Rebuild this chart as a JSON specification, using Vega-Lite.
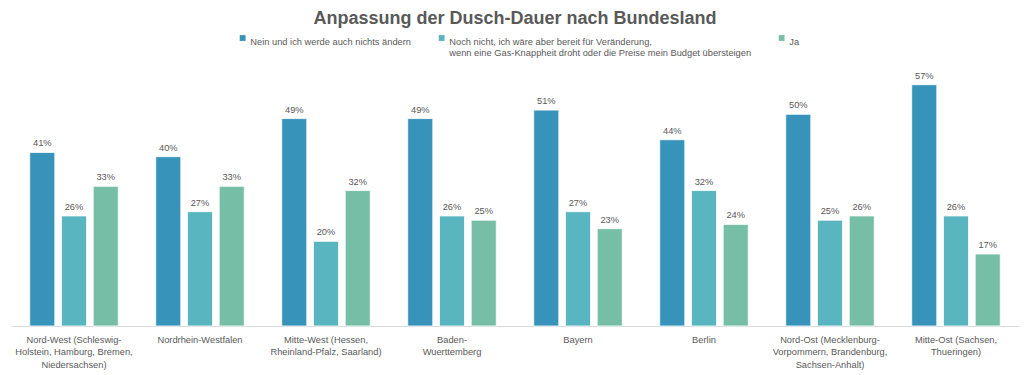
{
  "$schema": "https://vega.github.io/schema/vega-lite/v6.json",
  "width": 1008,
  "height": 254,
  "autosize": {"type": "none"},
  "padding": {"left": 11, "top": 72, "right": 11, "bottom": 49},
  "background": "white",
  "title": {
    "text": "Anpassung der Dusch-Dauer nach Bundesland",
    "anchor": "middle",
    "frame": "group",
    "fontSize": 18,
    "fontWeight": "bold",
    "font": "Liberation Sans",
    "color": "#595959",
    "offset": 5
  },
  "data": {
    "values": [
      {"region": "Nord-West", "answer": "Nein", "value": 0.41},
      {"region": "Nord-West", "answer": "Noch nicht", "value": 0.26},
      {"region": "Nord-West", "answer": "Ja", "value": 0.33},
      {"region": "Nordrhein-Westfalen", "answer": "Nein", "value": 0.40},
      {"region": "Nordrhein-Westfalen", "answer": "Noch nicht", "value": 0.27},
      {"region": "Nordrhein-Westfalen", "answer": "Ja", "value": 0.33},
      {"region": "Mitte-West", "answer": "Nein", "value": 0.49},
      {"region": "Mitte-West", "answer": "Noch nicht", "value": 0.20},
      {"region": "Mitte-West", "answer": "Ja", "value": 0.32},
      {"region": "Baden-Wuerttemberg", "answer": "Nein", "value": 0.49},
      {"region": "Baden-Wuerttemberg", "answer": "Noch nicht", "value": 0.26},
      {"region": "Baden-Wuerttemberg", "answer": "Ja", "value": 0.25},
      {"region": "Bayern", "answer": "Nein", "value": 0.51},
      {"region": "Bayern", "answer": "Noch nicht", "value": 0.27},
      {"region": "Bayern", "answer": "Ja", "value": 0.23},
      {"region": "Berlin", "answer": "Nein", "value": 0.44},
      {"region": "Berlin", "answer": "Noch nicht", "value": 0.32},
      {"region": "Berlin", "answer": "Ja", "value": 0.24},
      {"region": "Nord-Ost", "answer": "Nein", "value": 0.50},
      {"region": "Nord-Ost", "answer": "Noch nicht", "value": 0.25},
      {"region": "Nord-Ost", "answer": "Ja", "value": 0.26},
      {"region": "Mitte-Ost", "answer": "Nein", "value": 0.57},
      {"region": "Mitte-Ost", "answer": "Noch nicht", "value": 0.26},
      {"region": "Mitte-Ost", "answer": "Ja", "value": 0.17}
    ]
  },
  "encoding": {
    "x": {
      "field": "region",
      "type": "nominal",
      "sort": null,
      "scale": {"paddingInner": 0, "paddingOuter": 0},
      "axis": {
        "title": null,
        "labelAngle": 0,
        "ticks": false,
        "labelPadding": 9,
        "labelFontSize": 9.3,
        "labelFont": "Liberation Sans",
        "labelColor": "#595959",
        "labelLineHeight": 12.5,
        "labelBaseline": "top",
        "domainColor": "#d9d9d9",
        "domainWidth": 1,
        "grid": false,
        "labelExpr": "datum.label == 'Nord-West' ? ['Nord-West (Schleswig-', 'Holstein, Hamburg, Bremen,', 'Niedersachsen)'] : datum.label == 'Mitte-West' ? ['Mitte-West (Hessen,', 'Rheinland-Pfalz, Saarland)'] : datum.label == 'Baden-Wuerttemberg' ? ['Baden-', 'Wuerttemberg'] : datum.label == 'Nord-Ost' ? ['Nord-Ost (Mecklenburg-', 'Vorpommern, Brandenburg,', 'Sachsen-Anhalt)'] : datum.label == 'Mitte-Ost' ? ['Mitte-Ost (Sachsen,', 'Thueringen)'] : datum.label"
      }
    },
    "xOffset": {
      "field": "answer",
      "type": "nominal",
      "sort": ["Nein", "Noch nicht", "Ja"],
      "scale": {"paddingInner": 0.21, "paddingOuter": 0.59}
    },
    "y": {
      "field": "value",
      "type": "quantitative",
      "scale": {"domain": [0, 0.6], "nice": false},
      "axis": null
    }
  },
  "layer": [
    {
      "mark": {"type": "bar", "stroke": "white", "strokeWidth": 0.8},
      "encoding": {
        "color": {
          "field": "answer",
          "type": "nominal",
          "sort": ["Nein", "Noch nicht", "Ja"],
          "scale": {
            "domain": ["Nein", "Noch nicht", "Ja"],
            "range": ["#3893BA", "#59B5C0", "#77BEA7"]
          },
          "legend": {
            "title": null,
            "orient": "none",
            "legendX": 227,
            "legendY": -39,
            "direction": "horizontal",
            "symbolType": "square",
            "symbolSize": 34,
            "symbolStrokeWidth": 0,
            "labelFontSize": 9.3,
            "labelFont": "Liberation Sans",
            "labelColor": "#595959",
            "labelBaseline": "top",
            "labelLineHeight": 11.5,
            "labelOffset": 3,
            "labelLimit": 500,
            "columnPadding": 25,
            "labelExpr": "datum.label == 'Nein' ? ['Nein und ich werde auch nichts ändern', ' '] : datum.label == 'Noch nicht' ? ['Noch nicht, ich wäre aber bereit für Veränderung,', 'wenn eine Gas-Knappheit droht oder die Preise mein Budget übersteigen'] : ['Ja', ' ']"
          }
        }
      }
    },
    {
      "mark": {
        "type": "text",
        "dy": -4,
        "baseline": "bottom",
        "fontSize": 9.3,
        "font": "Liberation Sans",
        "color": "#595959"
      },
      "encoding": {
        "text": {"field": "value", "type": "quantitative", "format": ".0%"},
        "detail": {"field": "answer"}
      }
    }
  ],
  "config": {
    "view": {"stroke": null}
  }
}
